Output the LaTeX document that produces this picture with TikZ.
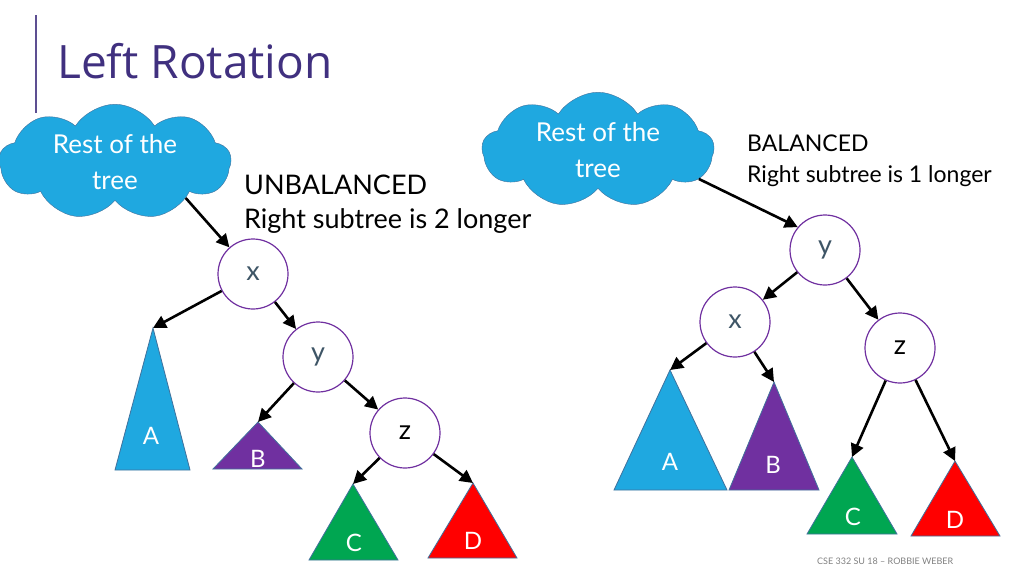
\documentclass[tikz,border=0pt]{standalone}
\usepackage{fontspec}
\setmainfont{Lato}
\newfontfamily\titlefont{Open Sans}
\usetikzlibrary{shapes.symbols,arrows.meta}
\definecolor{sky}{HTML}{1FA8E0}
\definecolor{plum}{HTML}{7030A0}
\definecolor{leaf}{HTML}{00A651}
\definecolor{edge}{HTML}{41719C}
\definecolor{ink}{HTML}{3E5566}
\definecolor{heading}{HTML}{40307F}
\tikzset{
  key/.style={circle, draw=plum, line width=1.2pt, fill=white, minimum size=70pt, inner sep=0pt, font=\fontsize{27}{27}\selectfont, text=ink},
  rest/.style={cloud, cloud puffs=9, cloud puff arc=115, aspect=2, draw=edge, fill=sky, text=white, align=center, font=\fontsize{26}{36}\selectfont, minimum width=232pt, minimum height=112pt, inner sep=0pt},
  link/.style={line width=2.6pt, -{Triangle[length=13pt,width=13pt]}},
  sub/.style={draw=edge, line width=0.8pt},
  lbl/.style={text=white, font=\fontsize{24}{24}\selectfont},
  note/.style={anchor=base west, inner sep=0pt}}

\begin{document}
\begin{tikzpicture}[x=1pt, y=-1pt]
\useasboundingbox (0,0) rectangle (1024,576);
\draw[heading!85, line width=1.5pt] (36,15) -- (36,113);
\node[note, text=heading, font=\titlefont\fontsize{46}{46}\selectfont] (title) at (57,78) {Left Rotation};

\node[rest] (r1) at (115,162) {Rest of the\\tree};
\node[note, font=\fontsize{27}{27}\selectfont] (s1) at (244,194) {UNBALANCED};
\node[note, font=\fontsize{27}{27}\selectfont] (s2) at (244,228) {Right subtree is 2 longer};
\node[key] (x1) at (253,274) {x};
\node[key] (y1) at (318,357) {y};
\node[key, text=black] (z1) at (405,433) {z};
\filldraw[sub, fill=sky] (153,328) coordinate (a1) -- (190,470) -- (115,470) -- cycle;
\filldraw[sub, fill=plum] (258,422) coordinate (b1) -- (302,469) -- (213,469) -- cycle;
\filldraw[sub, fill=leaf] (353,484) coordinate (c1) -- (398,560) -- (309,560) -- cycle;
\filldraw[sub, fill=red] (473,483) coordinate (d1) -- (517,558) -- (428,558) -- cycle;
\node[lbl] (la1) at (151,436) {A};
\node[lbl] (lb1) at (258,459) {B};
\node[lbl] (lc1) at (354,543) {C};
\node[lbl] (ld1) at (473,541) {D};
\draw[link] (r1.-27) -- (x1);
\draw[link] (x1) -- (a1);
\draw[link] (x1) -- (y1);
\draw[link] (y1) -- (b1);
\draw[link] (y1) -- (z1);
\draw[link] (z1) -- (c1);
\draw[link] (z1) -- (d1);

\node[rest] (r2) at (598,150) {Rest of the\\tree};
\node[note, font=\fontsize{23}{23}\selectfont] (t1) at (747,151) {BALANCED};
\node[note, font=\fontsize{23}{23}\selectfont] (t2) at (747,182) {Right subtree is 1 longer};
\node[key] (y2) at (825,250) {y};
\node[key] (x2) at (735,322) {x};
\node[key, text=black] (z2) at (900,348) {z};
\filldraw[sub, fill=sky] (670,370) coordinate (a2) -- (727,490) -- (614,490) -- cycle;
\filldraw[sub, fill=plum] (774,382) coordinate (b2) -- (819,490) -- (729,490) -- cycle;
\filldraw[sub, fill=leaf] (852,457) coordinate (c2) -- (897,534) -- (807,534) -- cycle;
\filldraw[sub, fill=red] (955,461) coordinate (d2) -- (1000,536) -- (911,536) -- cycle;
\node[lbl] (la2) at (670,462) {A};
\node[lbl] (lb2) at (773,465) {B};
\node[lbl] (lc2) at (853,517) {C};
\node[lbl] (ld2) at (955,520) {D};
\draw[link] (r2.-16) -- (y2.140);
\draw[link] (y2) -- (x2);
\draw[link] (y2) -- (z2);
\draw[link] (x2) -- (a2);
\draw[link] (x2) -- (b2);
\draw[link] (z2) -- (c2);
\draw[link] (z2) -- (d2);

\node[note, text=gray, font=\fontsize{9}{9}\selectfont] (foot) at (817,564) {CSE 332 SU 18 – ROBBIE WEBER};
\end{tikzpicture}
\end{document}
